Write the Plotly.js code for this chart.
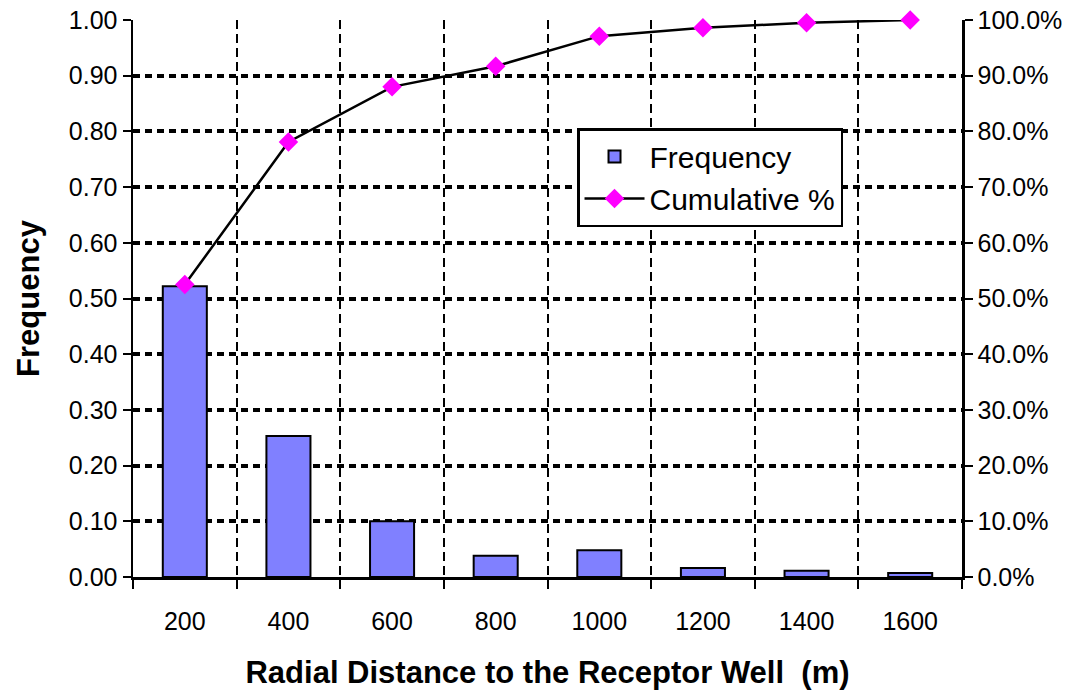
<!DOCTYPE html>
<html>
<head>
<meta charset="utf-8">
<script src="https://cdn.plot.ly/plotly-3.0.1.min.js"></script>
<style>
  html, body { margin: 0; padding: 0; background: #fff; }
  #chart { width: 1074px; height: 692px; }
</style>
</head>
<body>
<div id="chart"></div>
<script>
// radial distance bins (m)
var distances = [200, 400, 600, 800, 1000, 1200, 1400, 1600];
// values
var frequency = [0.522, 0.253, 0.100, 0.038, 0.048, 0.016, 0.011, 0.007];
var cumulative = [0.525, 0.781, 0.880, 0.917, 0.971, 0.986, 0.995, 1.000];
var freqTicks = [0, 0.1, 0.2, 0.3, 0.4, 0.5, 0.6, 0.7, 0.8, 0.9, 1.0];

var font = "Liberation Sans, Arial, sans-serif";

var data = [
  {
    x: distances,
    y: frequency,
    name: "Frequency",
    type: "bar",
    width: 85,
    marker: { color: "#8080ff", line: { color: "#000", width: 2 } },
    yaxis: "y"
  },
  {
    x: distances,
    y: cumulative,
    name: "Cumulative %",
    type: "scatter",
    mode: "lines+markers",
    line: { color: "#000", width: 2.5 },
    marker: { symbol: "diamond", color: "#ff00ff", size: 15 },
    yaxis: "y2",
    cliponaxis: false
  }
];

var layout = {
  width: 1074,
  height: 692,
  margin: { l: 133, r: 112, t: 20, b: 115 },
  paper_bgcolor: "#fff",
  plot_bgcolor: "#fff",
  font: { family: font, size: 25, color: "#000" },
  showlegend: true,
  legend: {
    x: 0.5356, y: 0.806, xanchor: "left", yanchor: "top",
    bordercolor: "#000", borderwidth: 2.5, bgcolor: "#fff",
    font: { size: 30 },
    itemwidth: 60,
    traceorder: "normal"
  },
  xaxis: {
    range: [100, 1700],
    tickvals: distances,
    ticks: "outside",
    ticklen: 20,
    tickcolor: "rgba(0,0,0,0)",
    showgrid: false,
    showline: true,
    linecolor: "#000",
    linewidth: 2.5,
    zeroline: false,
    minor: {
      tick0: 100, dtick: 200,
      ticks: "outside", ticklen: 9, tickwidth: 2, tickcolor: "#000",
      showgrid: true, gridcolor: "#000", gridwidth: 2, griddash: "9px,5px"
    },
    title: {
      text: "<b>Radial Distance to the Receptor Well  (m)</b>",
      font: { size: 31 },
      standoff: 28
    }
  },
  yaxis: {
    range: [0, 1],
    tickvals: freqTicks,
    tickformat: ".2f",
    ticks: "outside",
    ticklen: 8,
    tickwidth: 2,
    tickcolor: "#000",
    showline: true,
    linecolor: "#000",
    linewidth: 2.5,
    showgrid: true,
    gridcolor: "#000",
    gridwidth: 4,
    griddash: "7px,5px",
    zeroline: false,
    title: {
      text: "<b>Frequency</b>",
      font: { size: 31 },
      standoff: 20
    }
  },
  yaxis2: {
    overlaying: "y",
    side: "right",
    range: [0, 1],
    tickvals: freqTicks,
    tickformat: ".1%",
    ticks: "outside",
    ticklen: 8,
    tickwidth: 2,
    tickcolor: "#000",
    showline: true,
    linecolor: "#000",
    linewidth: 2.5,
    showgrid: false,
    zeroline: false
  }
};

Plotly.newPlot("chart", data, layout, { staticPlot: true });
</script>
</body>
</html>
